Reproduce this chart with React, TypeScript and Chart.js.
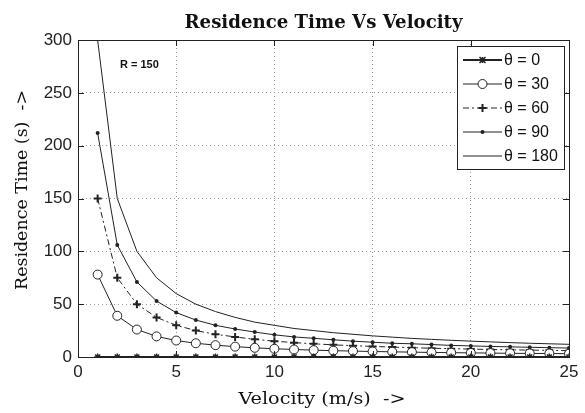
import React, { useEffect, useRef } from "react";
import { Chart, registerables } from "chart.js";

Chart.register(...registerables);

const velocity = [1, 2, 3, 4, 5, 6, 7, 8, 9, 10, 11, 12, 13, 14, 15, 16, 17, 18, 19, 20, 21, 22, 23, 24, 25];
const theta0 = [0, 0, 0, 0, 0, 0, 0, 0, 0, 0, 0, 0, 0, 0, 0, 0, 0, 0, 0, 0, 0, 0, 0, 0, 0];
const theta30 = [78, 39, 26, 19.5, 15.6, 13, 11.2, 9.8, 8.7, 7.8, 7.1, 6.5, 6, 5.6, 5.2, 4.9, 4.6, 4.3, 4.1, 3.9, 3.7, 3.5, 3.4, 3.3, 3.1];
const theta60 = [150, 75, 50, 37.5, 30, 25, 21.5, 19, 16.7, 15, 13.6, 12.5, 11.5, 10.7, 10, 9.4, 8.8, 8.3, 7.9, 7.5, 7.1, 6.8, 6.5, 6.3, 6];
const theta90 = [212, 106, 71, 53, 42, 35, 30, 26.5, 23.6, 21, 19, 17.7, 16.3, 15, 14, 13, 12.5, 11.8, 11, 10.5, 10, 9.6, 9.2, 8.8, 8.5];
const theta180 = [300, 150, 100, 75, 60, 50, 43, 37.5, 33, 30, 27, 25, 23, 21.5, 20, 18.8, 17.6, 16.7, 15.8, 15, 14.3, 13.6, 13, 12.5, 12];

const seriesLabels = ["θ = 0", "θ = 30", "θ = 60", "θ = 90", "θ = 180"];
const xTickValues = [0, 5, 10, 15, 20, 25];
const yTickValues = [0, 50, 100, 150, 200, 250, 300];
const titleText = "Residence Time Vs Velocity";
const xLabelText = "Velocity (m/s)  ->";
const yLabelText = "Residence Time (s)  ->";
const noteText = "R = 150";

const INK = "#222";

function pts(vals: number[]) {
  return velocity.map((v, i) => ({ x: v, y: vals[i] }));
}

function fillFit(ctx: CanvasRenderingContext2D, text: string, x: number, y: number, target: number) {
  const w = ctx.measureText(text).width;
  ctx.save();
  ctx.translate(x, y);
  ctx.scale(target / w, 1);
  ctx.textAlign = "center";
  ctx.fillText(text, 0, 0);
  ctx.restore();
}

function drawMarker(ctx: CanvasRenderingContext2D, kind: string, x: number, y: number) {
  ctx.save();
  ctx.setLineDash([]);
  ctx.strokeStyle = INK;
  ctx.fillStyle = INK;
  if (kind === "star") {
    ctx.lineWidth = 1.5;
    const r = 3;
    ctx.beginPath();
    ctx.moveTo(x - r, y - r); ctx.lineTo(x + r, y + r);
    ctx.moveTo(x - r, y + r); ctx.lineTo(x + r, y - r);
    ctx.moveTo(x, y - r); ctx.lineTo(x, y + r);
    ctx.stroke();
  } else if (kind === "circle") {
    ctx.lineWidth = 1;
    ctx.fillStyle = "#fff";
    ctx.beginPath();
    ctx.arc(x, y, 4.5, 0, Math.PI * 2);
    ctx.fill();
    ctx.stroke();
  } else if (kind === "cross") {
    ctx.lineWidth = 2;
    const r = 4;
    ctx.beginPath();
    ctx.moveTo(x - r, y); ctx.lineTo(x + r, y);
    ctx.moveTo(x, y - r); ctx.lineTo(x, y + r);
    ctx.stroke();
  } else if (kind === "dot") {
    ctx.beginPath();
    ctx.arc(x, y, 2, 0, Math.PI * 2);
    ctx.fill();
  }
  ctx.restore();
}

const markerKinds = ["star", "circle", "cross", "dot", "none"];
const dashes: number[][] = [[], [], [6, 3, 2, 3], [], []];
const widths = [2, 1, 1, 1, 1];

const decorPlugin = {
  id: "decor",
  afterDatasetsDraw(chart: any) {
    const { ctx, chartArea } = chart;
    const { left, right, top, bottom } = chartArea;
    const xs = chart.scales.x;
    const ys = chart.scales.y;
    ctx.save();
    // box
    ctx.strokeStyle = INK;
    ctx.lineWidth = 1;
    ctx.setLineDash([]);
    ctx.strokeRect(Math.round(left) + 0.5, Math.round(top) + 0.5, Math.round(right - left), Math.round(bottom - top));
    // inner ticks
    const tl = 6;
    ctx.beginPath();
    for (const v of xTickValues) {
      const px = Math.round(xs.getPixelForValue(v)) + 0.5;
      ctx.moveTo(px, bottom); ctx.lineTo(px, bottom - tl);
      ctx.moveTo(px, top); ctx.lineTo(px, top + tl);
    }
    for (const v of yTickValues) {
      const py = Math.round(ys.getPixelForValue(v)) + 0.5;
      ctx.moveTo(left, py); ctx.lineTo(left + tl, py);
      ctx.moveTo(right, py); ctx.lineTo(right - tl, py);
    }
    ctx.stroke();

    // title
    ctx.fillStyle = "#111";
    ctx.textBaseline = "alphabetic";
    ctx.font = "bold 18px 'DejaVu Serif'";
    fillFit(ctx, titleText, (left + right) / 2, 28, 278);
    // x label
    ctx.font = "16px 'DejaVu Serif'";
    fillFit(ctx, xLabelText, 322, 404, 167);
    // y label
    ctx.save();
    ctx.translate(27, 190);
    ctx.rotate(-Math.PI / 2);
    fillFit(ctx, yLabelText, 0, 0, 200);
    ctx.restore();

    // note
    ctx.font = "bold 11px 'Liberation Sans'";
    ctx.textAlign = "left";
    ctx.textBaseline = "middle";
    ctx.fillText(noteText, 120, 65);

    // legend
    const lx0 = 457, ly0 = 46, lw = 107, lh = 123;
    ctx.fillStyle = "#fff";
    ctx.fillRect(lx0, ly0, lw, lh);
    ctx.strokeStyle = INK;
    ctx.lineWidth = 1;
    ctx.strokeRect(lx0 + 0.5, ly0 + 0.5, lw, lh);
    ctx.font = "16px 'Liberation Sans'";
    ctx.fillStyle = "#111";
    for (let i = 0; i < seriesLabels.length; i++) {
      const y = 60 + i * 24;
      ctx.save();
      ctx.strokeStyle = INK;
      ctx.lineWidth = widths[i];
      ctx.setLineDash(dashes[i]);
      ctx.beginPath();
      ctx.moveTo(463, y); ctx.lineTo(502, y);
      ctx.stroke();
      ctx.restore();
      drawMarker(ctx, markerKinds[i], 482.5, y);
      ctx.fillStyle = "#111";
      ctx.fillText(seriesLabels[i], 504, y + 1);
    }
    ctx.restore();
  },
};

export default function App() {
  const ref = useRef<HTMLCanvasElement>(null);
  useEffect(() => {
    if (!ref.current) return;
    const mk = (label: string, vals: number[], i: number, extra: any) => ({
      label,
      data: pts(vals),
      borderColor: INK,
      backgroundColor: INK,
      borderWidth: widths[i],
      borderDash: dashes[i],
      pointBorderColor: INK,
      tension: 0,
      ...extra,
    });
    const chart = new Chart(ref.current, {
      type: "line",
      data: {
        datasets: [
          mk(seriesLabels[0], theta0, 0, { pointStyle: "star", pointRadius: 3.5, pointBorderWidth: 1.5 }),
          mk(seriesLabels[1], theta30, 1, { pointStyle: "circle", pointRadius: 4.5, pointBackgroundColor: "#fff", pointBorderWidth: 1 }),
          mk(seriesLabels[2], theta60, 2, { pointStyle: "cross", pointRadius: 4, pointBorderWidth: 2 }),
          mk(seriesLabels[3], theta90, 3, { pointStyle: "circle", pointRadius: 2, pointBackgroundColor: INK, pointBorderWidth: 0 }),
          mk(seriesLabels[4], theta180, 4, { pointRadius: 0 }),
        ] as any,
      },
      options: {
        responsive: false,
        animation: false,
        layout: { padding: { top: 40, right: 16, left: 0, bottom: 0 } },
        plugins: { legend: { display: false }, title: { display: false }, tooltip: { enabled: false } },
        scales: {
          x: {
            type: "linear",
            min: 0,
            max: 25,
            afterFit: (s: any) => { s.height = 56; },
            afterBuildTicks: (s: any) => { s.ticks = xTickValues.map((v) => ({ value: v })); },
            ticks: { color: "#222", font: { family: "'Liberation Sans'", size: 17 }, padding: 5 },
            grid: { color: "#999", drawTicks: false, tickLength: 0, lineWidth: (c: any) => (c.tick && (c.tick.value === 0 || c.tick.value === 25) ? 0 : 1) },
            border: { display: false, dash: [1, 3] },
          },
          y: {
            type: "linear",
            min: 0,
            max: 300,
            afterFit: (s: any) => { s.width = 78; },
            afterBuildTicks: (s: any) => { s.ticks = yTickValues.map((v) => ({ value: v })); },
            ticks: { color: "#222", font: { family: "'Liberation Sans'", size: 17 }, padding: 6 },
            grid: { color: "#999", drawTicks: false, tickLength: 0, lineWidth: (c: any) => (c.tick && (c.tick.value === 0 || c.tick.value === 300) ? 0 : 1) },
            border: { display: false, dash: [1, 3] },
          },
        },
      } as any,
      plugins: [decorPlugin],
    });
    return () => chart.destroy();
  }, []);
  return (
    <div style={{ position: "fixed", left: 0, top: 0, width: 585, height: 413, background: "#fff" }}>
      <canvas ref={ref} width={585} height={413} style={{ display: "block" }} />
    </div>
  );
}
